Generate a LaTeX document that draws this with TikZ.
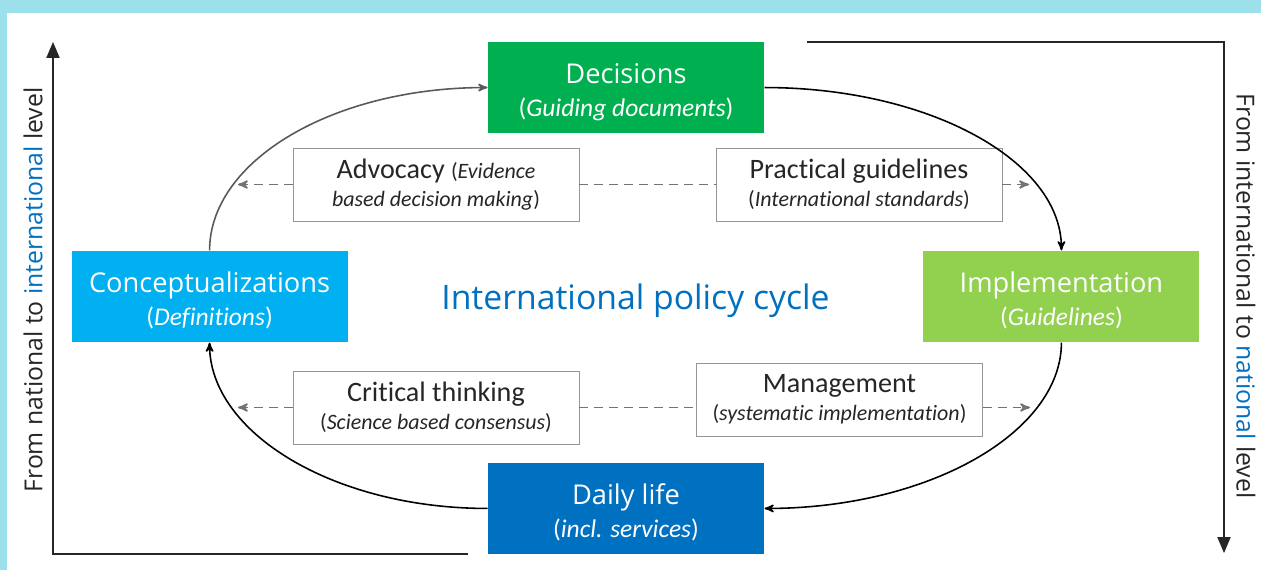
\documentclass[tikz,border=0pt]{standalone}
\usepackage{fontspec}
\setmainfont{Carlito}[Ligatures=NoCommon]
\newfontfamily\segfont{Open Sans}
\usetikzlibrary{arrows,positioning}

\definecolor{skyback}{RGB}{155,224,235}
\definecolor{decgreen}{RGB}{0,176,80}
\definecolor{conblue}{RGB}{0,176,240}
\definecolor{impgreen}{RGB}{146,208,80}
\definecolor{dayblue}{RGB}{0,112,192}
\definecolor{txtgray}{RGB}{38,38,38}
\definecolor{rimgray}{RGB}{150,150,150}
\definecolor{dashgray}{RGB}{115,115,115}

\newcommand{\cycname}{\segfont\fontsize{15.5}{18.7}\selectfont}
\newcommand{\cyctop}{\rule{0pt}{16.5pt}}
\newcommand{\cycsub}{\rmfamily\fontsize{14.5}{18.7}\selectfont}
\newcommand{\notename}{\rmfamily\fontsize{16}{15.9}\selectfont}
\newcommand{\notesub}{\rmfamily\fontsize{12.5}{15.9}\selectfont}
\newcommand{\axistxt}{\segfont\fontsize{14.1}{17}\selectfont}

\begin{document}
\begin{tikzpicture}[x=0.02cm, y=-0.02cm, >=stealth', node distance=8.52cm, semithick,
    cycbox/.style={rectangle, fill=#1, text=white, font=\cycname, minimum width=5.52cm, minimum height=1.82cm, inner sep=0pt, align=center},
    notebox/.style={rectangle, draw=rimgray, thin, fill=white, text=txtgray, font=\notename, minimum width=5.72cm, minimum height=1.46cm, inner sep=0pt, align=center},
    flow/.style={->, line width=0.9pt, black},
    hint/.style={->, dash pattern=on 5pt off 3.5pt, line width=1pt, dashgray},
    axis/.style={line width=1.1pt, black!85}]

    \useasboundingbox (0,0) rectangle (1261,570);
    \fill[skyback] (0,0) rectangle (1261,570);
    \fill[white] (7,13) rectangle (1261,570);

    % the cycle
    \node[text=dayblue, font=\segfont\fontsize{19.2}{22}\selectfont] (title) at (635.5,301) {International policy cycle};
    \node[cycbox=decgreen]  (decis)   [above of=title, node distance=4.27cm, xshift=-0.19cm] {\cyctop Decisions\\ \cycsub(\textit{Guiding documents})};
    \node[cycbox=conblue]   (concept) [left of=title, yshift=0.09cm]                        {\cyctop Conceptualizations\\ \cycsub(\textit{Definitions})};
    \node[cycbox=impgreen]  (impl)    [right of=title, yshift=0.09cm]                       {\cyctop Implementation\\ \cycsub(\textit{Guidelines})};
    \node[cycbox=dayblue]   (daily)   [below of=title, node distance=4.15cm, xshift=-0.19cm] {\cyctop Daily life\\ \cycsub(\textit{incl. services})};

    \node[notebox] (advoc) at (436,184.5)   {Advocacy {\notesub(\textit{Evidence}}\\ \notesub\textit{based decision making})};
    \node[notebox] (pract) at (859,184.5)   {Practical guidelines\\ \notesub(\textit{International standards})};
    \node[notebox] (crit)  at (436,407.5)   {Critical thinking\\ \notesub(\textit{Science based consensus})};
    \node[notebox] (manag) at (839.5,399.5) {Management\\ \notesub(\textit{systematic implementation})};

    \draw[flow, black!65] (concept.north) .. controls +(0,-90) and +(-154,0) .. (decis.west);
    \draw[flow] (decis.east)  .. controls +(164,0) and +(0,-90) .. (impl.north);
    \draw[flow] (impl.south)  .. controls +(0,90) and +(164,0)  .. (daily.east);
    \draw[flow] (daily.west)  .. controls +(-154,0) and +(0,90) .. (concept.south);

    % dashed hints
    \coordinate (advtip) at (238,184.5);
    \coordinate (prtip)  at (1029,184.5);
    \coordinate (crtip)  at (238,407.5);
    \coordinate (mntip)  at (1030,407.5);
    \draw[hint]    (advoc.west) -- (advtip);
    \draw[hint, -] (advoc.east) -- (pract.west);
    \draw[hint]    (pract.east) -- (prtip);
    \draw[hint]    (crit.west)  -- (crtip);
    \draw[hint, -] (crit.east)  -- (crit.east -| manag.west);
    \draw[hint]    (crit.east -| manag.east) -- (mntip);

    % level axes
    \coordinate (lcorner) at (53,554);
    \coordinate (ltop)    at (53,42);
    \coordinate (lend)    at (468,554);
    \coordinate (rstart)  at (807,42);
    \coordinate (rcorner) at (1224,42);
    \coordinate (rbot)    at (1224,553);
    \draw[axis, -triangle 45] (lend) -- (lcorner) -- (ltop);
    \draw[axis, -triangle 45] (rstart) -- (rcorner) -- (rbot);

    \node[rotate=90, font=\axistxt, text=txtgray]  (uplab)   at (33,290)   {From national to \textcolor{dayblue}{international} level};
    \node[rotate=-90, font=\axistxt, text=txtgray] (downlab) at (1246,296) {From international to \textcolor{dayblue}{national} level};
\end{tikzpicture}
\end{document}
